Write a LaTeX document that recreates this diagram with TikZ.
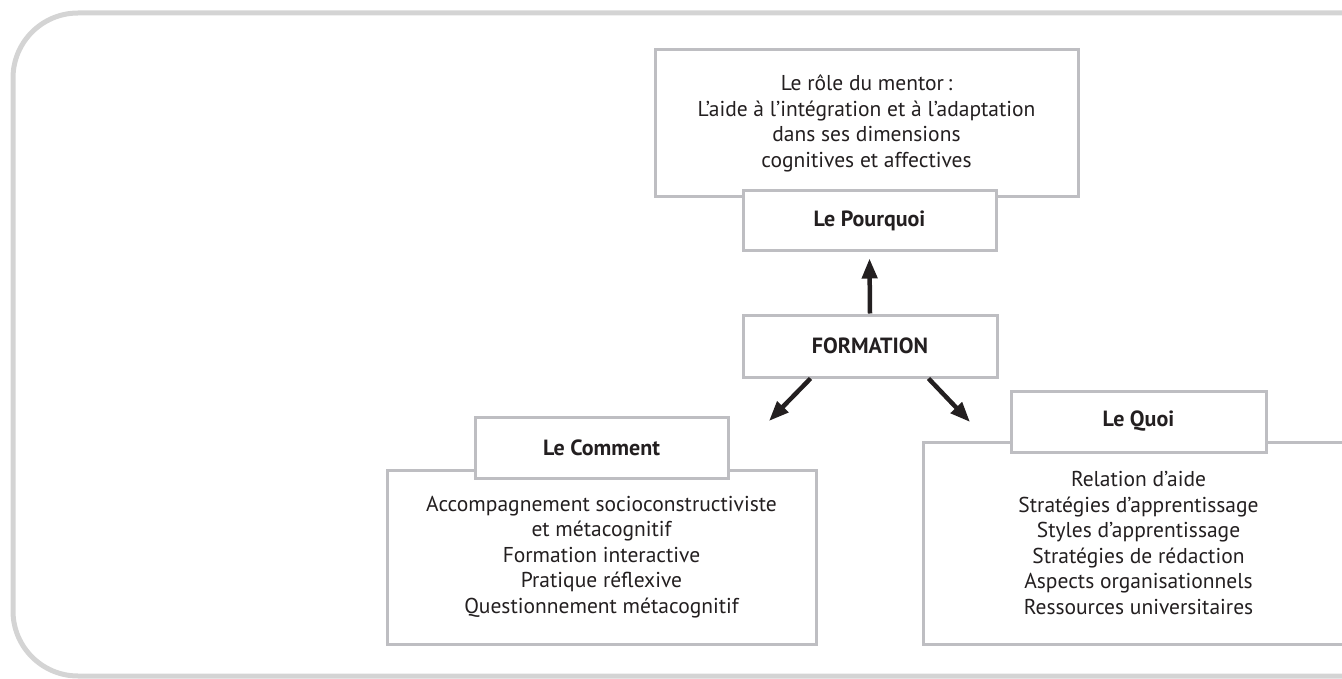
\documentclass[tikz,border=0pt]{standalone}
\usepackage{fontspec}
\setmainfont{PT Sans}
\usetikzlibrary{arrows.meta}
\definecolor{cadre}{HTML}{D4D4D4}
\definecolor{trait}{HTML}{BEBEC2}
\definecolor{encre}{HTML}{231F20}
\tikzset{
  boite/.style={draw=trait,line width=3pt,fill=white,align=center,inner sep=0pt,
    text=encre,font=\fontsize{21.5}{25.5}\selectfont},
  onglet/.style={boite,font=\fontsize{22}{25.5}\selectfont\bfseries},
  fleche/.style={draw=encre,line width=4.5pt,-{Triangle[length=20pt,width=15pt]}}
}

\begin{document}
\begin{tikzpicture}[x=1pt,y=-1pt]
		\useasboundingbox (0,0) rectangle (1342,679);
		% cadre exterieur
		\draw[cadre,line width=5pt,rounded corners=65pt] (1420,13) -- (13,13) -- (13,676) -- (1420,676);
		% le pourquoi
		\node[boite,minimum width=423pt,minimum height=147pt] (mentor) at (866.5,123.5)
		{Le rôle du mentor\,:\\ L’aide à l’intégration et à l’adaptation\\ dans ses dimensions\\ cognitives et affectives};
		\node[onglet,minimum width=253pt,minimum height=60pt] (pourquoi) at (869.5,221) {Le Pourquoi};
		\node[onglet,minimum width=254pt,minimum height=62pt] (formation) at (870,346) {FORMATION};
		% le comment
		\node[boite,minimum width=429pt,minimum height=174pt] (comment) at (601.5,557)
		{Accompagnement socioconstructiviste\\ et métacognitif\\ Formation interactive\\ Pratique réflexive\\ Questionnement métacognitif};
		\node[onglet,minimum width=253pt,minimum height=61pt] (ongletC) at (601.5,447.5) {Le Comment};
		% le quoi
		\node[boite,minimum width=431pt,minimum height=202pt] (quoi) at (1138.5,543)
		{Relation d’aide\\ Stratégies d’apprentissage\\ Styles d’apprentissage\\ Stratégies de rédaction\\ Aspects organisationnels\\ Ressources universitaires};
		\node[onglet,minimum width=255pt,minimum height=61pt] (ongletQ) at (1138.5,421.5) {Le Quoi};
		% fleches
		\coordinate (pointeC) at (769,421);
		\coordinate (pointeQ) at (970,422);
		\draw[fleche] (formation.north) -- ([yshift=-6pt]pourquoi.south);
		\draw[fleche] ([xshift=69pt]formation.south west) -- (pointeC);
		\draw[fleche] ([xshift=-70pt]formation.south east) -- (pointeQ);
	\end{tikzpicture}
\end{document}
